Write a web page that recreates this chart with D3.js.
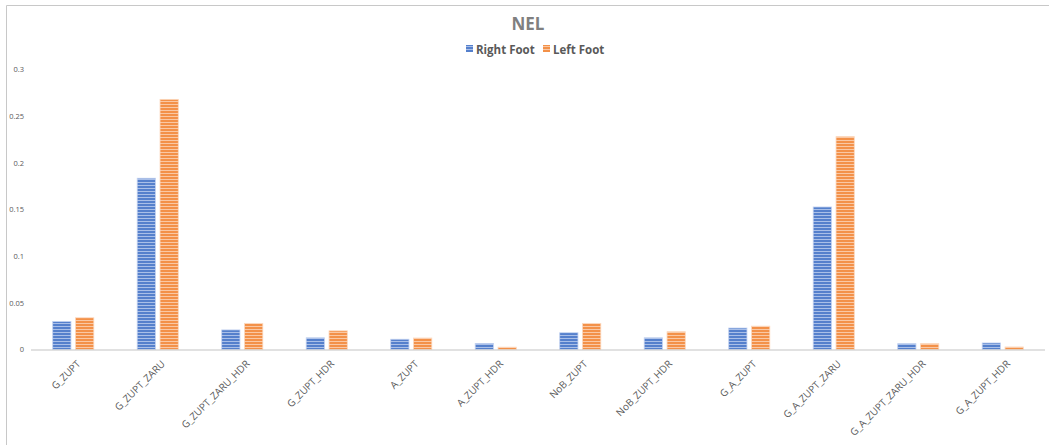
<!DOCTYPE html>
<html>
<head>
<meta charset="utf-8">
<script src="https://cdn.jsdelivr.net/npm/d3@7"></script>
<style>
  html, body { margin: 0; padding: 0; background: #fff; }
  svg { display: block; }
</style>
</head>
<body>
<div id="chart"></div>
<script>
// NEL per method, right vs. left foot
const categories = [
  "G_ZUPT", "G_ZUPT_ZARU", "G_ZUPT_ZARU_HDR", "G_ZUPT_HDR", "A_ZUPT", "A_ZUPT_HDR",
  "NoB_ZUPT", "NoB_ZUPT_HDR", "G_A_ZUPT", "G_A_ZUPT_ZARU", "G_A_ZUPT_ZARU_HDR", "G_A_ZUPT_HDR"
];
const seriesNames = ["Right Foot", "Left Foot"];
const rightFoot = [0.030, 0.1835, 0.021, 0.0125, 0.011, 0.0065, 0.018, 0.0125, 0.023, 0.1527, 0.0062, 0.007];
const leftFoot  = [0.034, 0.268, 0.028, 0.020, 0.0123, 0.0025, 0.028, 0.019, 0.025, 0.228, 0.0062, 0.0027];
const yTicks = [0, 0.05, 0.1, 0.15, 0.2, 0.25, 0.3];
const yTickLabels = ["0", "0.05", "0.1", "0.15", "0.2", "0.25", "0.3"];

const W = 1049, H = 445;
const margin = { left: 31, right: 4, top: 69.5, bottom: 95.5 };

const svg = d3.select("#chart").append("svg").attr("width", W).attr("height", H);

// striped fills for the two series
const defs = svg.append("defs");
const stripes = [
  { id: "stripe-right", base: "#a9bfe8", line: "#5580cc", edge: "#c3d2f0" },
  { id: "stripe-left",  base: "#fac8a4", line: "#f39149", edge: "#fcd7bc" }
];
stripes.forEach(s => {
  const p = defs.append("pattern").attr("id", s.id)
    .attr("patternUnits", "userSpaceOnUse").attr("width", 4).attr("height", 3);
  p.append("rect").attr("width", 4).attr("height", 3).attr("fill", s.base);
  p.append("rect").attr("y", 0).attr("width", 4).attr("height", 2).attr("fill", s.line);
});

// chart frame
svg.append("path")
  .attr("d", `M6.5,${H} V5.5 H${W}`)
  .attr("fill", "none").attr("stroke", "#c8c8c8").attr("stroke-width", 1);

const x0 = d3.scaleBand().domain(categories).range([margin.left, W - margin.right]);
const x1 = d3.scaleBand().domain(seriesNames).range([0, x0.bandwidth()]).paddingInner(0.2).paddingOuter(0.95);
const y = d3.scaleLinear().domain([0, 0.3]).range([H - margin.bottom, margin.top]);

// y axis labels (no axis line)
const yAxis = d3.axisLeft(y).tickValues(yTicks)
  .tickFormat((d, i) => yTickLabels[i]).tickSize(0).tickPadding(0);
const yg = svg.append("g").attr("transform", `translate(24,0)`).call(yAxis);
yg.select(".domain").remove();
yg.selectAll("text").attr("fill", "#595959").attr("font-size", 7.5)
  .attr("font-family", "'Open Sans', sans-serif");

// bars
const data = categories.map((c, i) => ({ cat: c, vals: [rightFoot[i], leftFoot[i]] }));
const groups = svg.append("g").selectAll("g").data(data).join("g")
  .attr("transform", d => `translate(${x0(d.cat)},0)`);
groups.selectAll("rect").data(d => d.vals.map((v, j) => ({ v, s: seriesNames[j], j })))
  .join("rect")
  .attr("x", d => x1(d.s))
  .attr("width", x1.bandwidth())
  .attr("y", d => y(d.v))
  .attr("height", d => y(0) - y(d.v))
  .attr("fill", d => `url(#${stripes[d.j].id})`)
  .attr("stroke", d => stripes[d.j].edge)
  .attr("stroke-width", 0.8);

// x axis with rotated category labels
const xAxis = d3.axisBottom(x0).tickSize(0).tickPadding(0);
const xg = svg.append("g").attr("transform", `translate(0,${y(0)})`).call(xAxis);
xg.select(".domain").attr("stroke", "#c4c4c4").attr("stroke-width", 1.2)
  .attr("d", `M${margin.left},0.5H${W - margin.right}`);
xg.selectAll("text")
  .attr("fill", "#595959").attr("font-size", 10)
  .attr("font-family", "'Open Sans', sans-serif")
  .attr("text-anchor", "end")
  .attr("x", 0).attr("y", 0).attr("dy", 0)
  .attr("transform", "translate(8,15) rotate(-45)");

// title
svg.append("text").attr("x", 528).attr("y", 30).attr("text-anchor", "middle")
  .attr("font-family", "'Open Sans', sans-serif").attr("font-weight", "bold")
  .attr("font-size", 17).attr("fill", "#808080").text("NEL");

// legend
const legend = svg.append("g").attr("transform", "translate(466,50)");
const legendX = [0, 77];
seriesNames.forEach((name, j) => {
  const g = legend.append("g").attr("transform", `translate(${legendX[j]},0)`);
  g.append("rect").attr("x", 0).attr("y", -5).attr("width", 7).attr("height", 7)
    .attr("fill", `url(#${stripes[j].id})`);
  g.append("text").attr("x", 10).attr("y", 3.5)
    .attr("font-family", "'Open Sans', sans-serif").attr("font-weight", "bold")
    .attr("font-size", 11.5).attr("fill", "#595959").text(name);
});
</script>
</body>
</html>
